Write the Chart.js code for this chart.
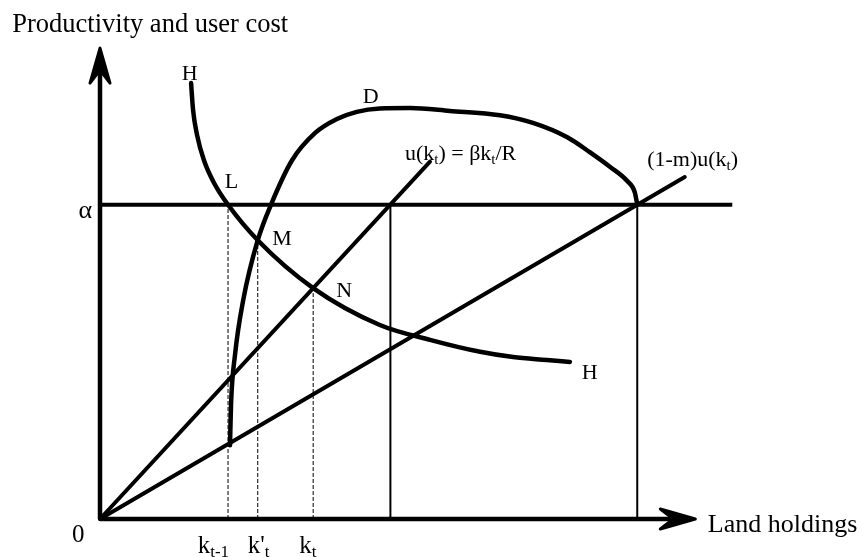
<!DOCTYPE html>
<html>
<head>
<meta charset="utf-8">
<script src="https://cdn.jsdelivr.net/npm/chart.js@4"></script>
<style>
  body { margin: 0; background: #fff; }
  #wrap { width: 863px; height: 557px; }
</style>
</head>
<body>
<div id="wrap"><canvas id="chart"></canvas></div>
<script>
// productivity level alpha
const alpha = 65.6;

// curve D (land holdings, productivity)
const dX = [19.7, 19.85, 20.45, 21.7, 23.9, 25.9, 29.1, 32.6, 35.9, 38.9, 42.4, 47.0, 53.0, 60.6, 65.6, 70.8, 74.2, 77.3, 79.85, 81.05, 81.4];
const dY = [15.4, 23.8, 34.2, 45.7, 58.2, 65.6, 74.9, 80.6, 83.5, 85.0, 85.7, 85.8, 85.2, 84.3, 82.7, 79.7, 76.6, 73.5, 70.6, 68.1, 65.6];

// curve H
const hX = [13.8, 14.1, 14.7, 15.75, 17.3, 19.4, 23.9, 32.3, 42.4, 50.0, 57.6, 62.6, 67.7, 71.2];
const hY = [91.0, 85.4, 80.2, 74.9, 70.1, 65.6, 58.2, 48.2, 40.5, 37.4, 34.9, 33.8, 33.2, 32.8];

// user cost lines from the origin: u(k) and (1-m)u(k)
const uEnd = [50.0, 74.6];
const umEnd = [88.6, 71.4];

// dashed drop lines k_{t-1}, k'_t, k_t
const kX = [19.4, 23.9, 32.3];
const kTop = [alpha, 58.2, 48.2];
const kNames = [[['k', 0], ['t-1', 1]], [["k'", 0], ['t', 1]], [['k', 0], ['t', 1]]];
const kLabelX = [14.8, 22.4, 30.2];

// solid drop lines where the user cost lines meet alpha
const dropX = [44.0, 81.4];

// axis ends (x, y)
const axisEnd = [90.2, 98.3];

const serif = '"Liberation Serif", "Times New Roman", serif';

// text labels: segments [text, isSubscript], position in data units
const labels = [
  { seg: [['H', 0]], x: 12.4, y: 91.6, size: 22 },
  { seg: [['D', 0]], x: 39.8, y: 86.8, size: 22 },
  { seg: [['L', 0]], x: 18.9, y: 69.1, size: 22 },
  { seg: [['M', 0]], x: 26.1, y: 57.2, size: 22 },
  { seg: [['N', 0]], x: 35.8, y: 46.3, size: 22 },
  { seg: [['H', 0]], x: 73.0, y: 29.2, size: 22 },
  { seg: [['u(k', 0], ['t', 1], [') = βk', 0], ['t', 1], ['/R', 0]], x: 46.2, y: 74.9, size: 22 },
  { seg: [['(1-m)u(k', 0], ['t', 1], [')', 0]], x: 82.9, y: 73.7, size: 22 },
  { seg: [['α', 0]], x: -1.2, y: 62.8, size: 26, align: 'right' },
  { seg: [['0', 0]], x: -3.3, y: -4.8, size: 25, align: 'center' },
  { seg: [['Land holdings', 0]], x: 92.1, y: -2.7, size: 26 },
  { seg: [['Productivity and user cost', 0]], x: -13.3, y: 101.7, size: 26.5 }
];
kNames.forEach((n, i) => labels.push({ seg: n, x: kLabelX[i], y: -7.1, size: 25 }));

function pts(xs, ys) {
  return xs.map((x, i) => ({ x: x, y: ys[i] }));
}

function line(data, width, extra) {
  return Object.assign({
    data: data,
    showLine: true,
    borderColor: '#000',
    borderWidth: width,
    pointRadius: 0,
    tension: 0,
    clip: false,
    borderJoinStyle: 'round'
  }, extra || {});
}

const datasets = [
  line([{ x: 0, y: 0 }, { x: axisEnd[0] - 3, y: 0 }], 4.5),
  line([{ x: 0, y: 0 }, { x: 0, y: axisEnd[1] - 1 }], 4.5),
  line([{ x: 0, y: alpha }, { x: 95.8, y: alpha }], 4),
  line([{ x: 0, y: 0 }, { x: uEnd[0], y: uEnd[1] }], 4, { borderCapStyle: 'round' }),
  line([{ x: 0, y: 0 }, { x: umEnd[0], y: umEnd[1] }], 4, { borderCapStyle: 'round' }),
  line(pts(dX, dY), 4.5, { cubicInterpolationMode: 'monotone', borderCapStyle: 'round' }),
  line(pts(hX, hY), 4.5, { cubicInterpolationMode: 'monotone', borderCapStyle: 'round' })
];
dropX.forEach(x => datasets.push(line([{ x: x, y: 0 }, { x: x, y: alpha }], 2)));
kX.forEach((x, i) => datasets.push(line([{ x: x, y: 0 }, { x: x, y: kTop[i] }], 1, { borderDash: [4, 2] })));

function arrowHead(ctx, x, y, dx, dy) {
  const len = 35, half = 10, notch = 13;
  const px = -dy, py = dx;
  ctx.beginPath();
  ctx.moveTo(x, y);
  ctx.lineTo(x - dx * len + px * half, y - dy * len + py * half);
  ctx.lineTo(x - dx * (len - notch), y - dy * (len - notch));
  ctx.lineTo(x - dx * len - px * half, y - dy * len - py * half);
  ctx.closePath();
  ctx.fill();
  ctx.stroke();
}

const decor = {
  id: 'decor',
  afterDraw(chart) {
    const ctx = chart.ctx;
    const xs = chart.scales.x, ys = chart.scales.y;
    ctx.save();
    ctx.fillStyle = '#000';
    ctx.strokeStyle = '#000';
    ctx.lineWidth = 3;
    ctx.lineJoin = 'round';
    arrowHead(ctx, xs.getPixelForValue(axisEnd[0]), ys.getPixelForValue(0), 1, 0);
    arrowHead(ctx, xs.getPixelForValue(0), ys.getPixelForValue(axisEnd[1]), 0, -1);

    ctx.textBaseline = 'alphabetic';
    ctx.textAlign = 'left';
    labels.forEach(l => {
      const subSize = Math.round(l.size * 0.68);
      let w = 0;
      l.seg.forEach(s => {
        ctx.font = (s[1] ? subSize : l.size) + 'px ' + serif;
        w += ctx.measureText(s[0]).width;
      });
      let x = xs.getPixelForValue(l.x);
      const y = ys.getPixelForValue(l.y);
      if (l.align === 'right') x -= w;
      if (l.align === 'center') x -= w / 2;
      l.seg.forEach(s => {
        ctx.font = (s[1] ? subSize : l.size) + 'px ' + serif;
        ctx.fillText(s[0], x, s[1] ? y + 4 : y);
        x += ctx.measureText(s[0]).width;
      });
    });
    ctx.restore();
  }
};

new Chart(document.getElementById('chart'), {
  type: 'scatter',
  data: { datasets: datasets },
  options: {
    responsive: true,
    maintainAspectRatio: false,
    animation: false,
    layout: { padding: { left: 100, right: 103, top: 40, bottom: 38 } },
    scales: {
      x: { type: 'linear', min: 0, max: 100, display: false },
      y: { type: 'linear', min: 0, max: 100, display: false }
    },
    plugins: {
      legend: { display: false },
      tooltip: { enabled: false }
    }
  },
  plugins: [decor]
});
</script>
</body>
</html>
